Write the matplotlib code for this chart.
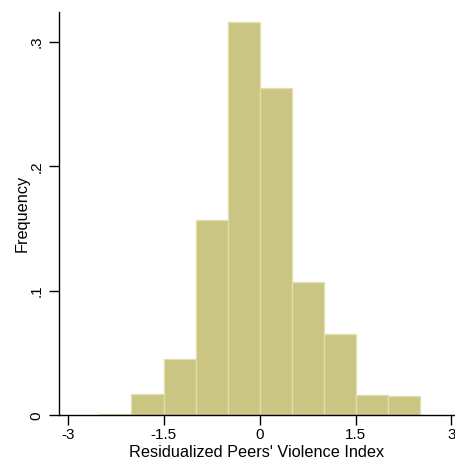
import matplotlib
matplotlib.use('Agg')
import matplotlib.pyplot as plt

plt.rcParams['font.family'] = ['Liberation Sans', 'DejaVu Sans']

# histogram bins (left edges, width) and frequencies
bin_start = -2.51
bin_width = 0.502
freq = [0.001, 0.017, 0.045, 0.157, 0.316, 0.263, 0.107, 0.065, 0.016, 0.0155]
lefts = [bin_start + i * bin_width for i in range(len(freq))]

xticks = [-3, -1.5, 0, 1.5, 3]
xtick_labels = ['-3', '-1.5', '0', '1.5', '3']
yticks = [0, 0.1, 0.2, 0.3]
ytick_labels = ['0', '.1', '.2', '.3']

fig = plt.figure(figsize=(4.55, 4.61), dpi=100)
ax = fig.add_axes([0.1286, 0.0991, 0.869, 0.875])

ax.bar(lefts, freq, width=bin_width, align='edge',
       color='#CBC583', edgecolor='#E3DEB0', linewidth=0.9)

ax.set_xlim(-3.15, 3.04)
ax.set_ylim(0, 0.324)
ax.set_xticks(xticks)
ax.set_xticklabels(xtick_labels)
ax.set_yticks(yticks)
ax.set_yticklabels(ytick_labels, rotation=90, va='center')

ax.spines['top'].set_visible(False)
ax.spines['right'].set_visible(False)
for s in ('left', 'bottom'):
    ax.spines[s].set_linewidth(1.0)
ax.tick_params(axis='both', direction='out', length=7, width=1.0,
               labelsize=11, color='black')
ax.tick_params(axis='x', pad=2)
ax.tick_params(axis='y', pad=4)

ax.set_xlabel("Residualized Peers' Violence Index", fontsize=11.7, labelpad=2)
ax.set_ylabel('Frequency', fontsize=11.7, labelpad=0)

fig.savefig('out.png', dpi=100)
